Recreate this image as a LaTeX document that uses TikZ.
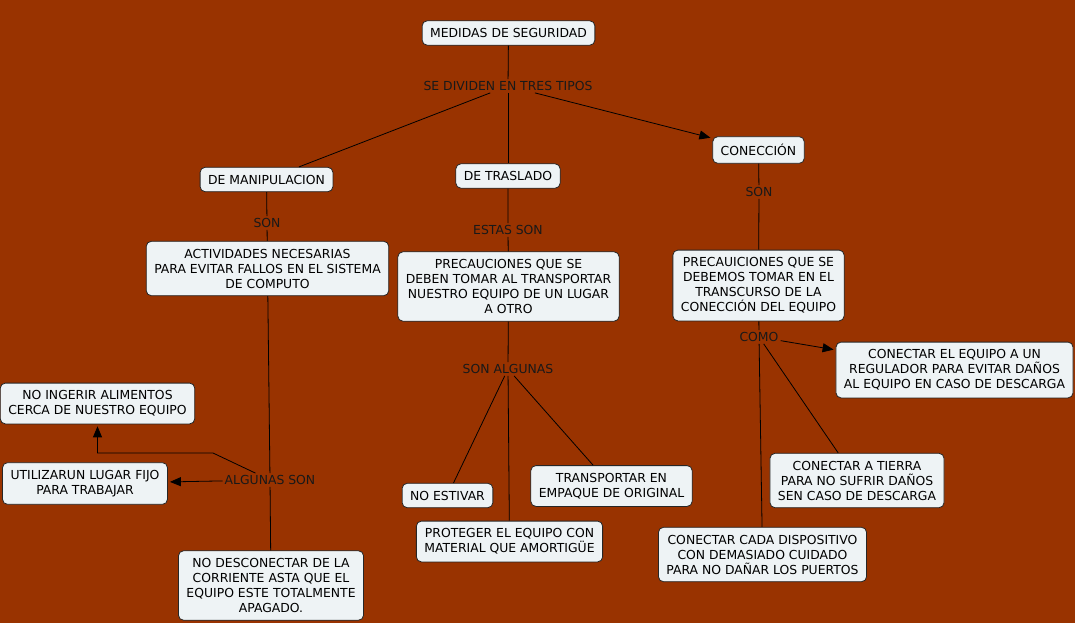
\documentclass[tikz,border=0pt]{standalone}
\usepackage{fontspec}
\setmainfont{DejaVu Sans}
\usepackage{xcolor}
\usetikzlibrary{arrows.meta, positioning}
\definecolor{fondo}{RGB}{153,51,0}
\definecolor{caja}{RGB}{238,243,245}
\tikzset{
  concepto/.style={draw=black!85, fill=caja, rounded corners=5pt, line width=0.8pt,
    inner xsep=8pt, inner ysep=7.5pt, align=center, font=\fontsize{12.4}{15}\selectfont},
  enlace/.style={fill=fondo, inner sep=2pt, text=black!90, font=\fontsize{12.4}{15}\selectfont},
  linea/.style={line width=0.8pt},
  flecha/.style={line width=0.8pt, -{Triangle[length=11pt,width=9pt]}, shorten >=2pt},
}

\begin{document}
\begin{tikzpicture}[x=1pt, y=-1pt]
  \fill[fondo] (0,0) rectangle (1075,623);
  \useasboundingbox (0,0) rectangle (1075,623);

  \node [concepto] (medidas) at (508.5,33) {MEDIDAS DE SEGURIDAD};
  \node [enlace] (tipos) at (508,86) {SE DIVIDEN EN TRES TIPOS};
  \node [concepto] (manip) at (266.5,179.5) {DE MANIPULACION};
  \node [concepto] (traslado) at (508,176) {DE TRASLADO};
  \node [concepto] (conec) at (758.5,150) {CONECCIÓN};

  % rama izquierda
  \node [enlace] (son1) at (267,223) {SON};
  \node [concepto] (activ) at (267.5,268.5) {ACTIVIDADES NECESARIAS\\PARA EVITAR FALLOS EN EL SISTEMA\\DE COMPUTO};
  \node [enlace] (algunas) at (270,480) {ALGUNAS SON};
  \node [concepto] (ingerir) at (97.5,403.5) {NO INGERIR ALIMENTOS\\CERCA DE NUESTRO EQUIPO};
  \node [concepto] (utilizar) at (85,483.5) {UTILIZARUN LUGAR FIJO\\PARA TRABAJAR};
  \node [concepto] (desconectar) at (271,585.5) {NO DESCONECTAR DE LA\\CORRIENTE ASTA QUE EL\\EQUIPO ESTE TOTALMENTE\\APAGADO.};
  \coordinate (b1) at (213,453);
  \coordinate (b2) at (97.5,453);

  % rama central
  \node [enlace] (estas) at (508,230) {ESTAS SON};
  \node [concepto] (precau) at (508.5,286.5) {PRECAUCIONES QUE SE\\DEBEN TOMAR AL TRANSPORTAR\\NUESTRO EQUIPO DE UN LUGAR\\A OTRO};
  \node [enlace] (sonalg) at (508,369) {SON ALGUNAS};
  \node [concepto] (estivar) at (447.5,495.5) {NO ESTIVAR};
  \node [concepto] (transp) at (611.5,486) {TRANSPORTAR EN\\EMPAQUE DE ORIGINAL};
  \node [concepto] (proteger) at (509.5,541.5) {PROTEGER EL EQUIPO CON\\MATERIAL QUE AMORTIGÜE};

  % rama derecha
  \node [enlace] (son2) at (759,192) {SON};
  \node [concepto] (precaui) at (758.5,285.5) {PRECAUICIONES QUE SE\\DEBEMOS TOMAR EN EL\\TRANSCURSO DE LA\\CONECCIÓN DEL EQUIPO};
  \node [enlace] (como) at (759,337) {COMO};
  \node [concepto] (regul) at (954.5,370) {CONECTAR EL EQUIPO A UN\\REGULADOR PARA EVITAR DAÑOS\\AL EQUIPO EN CASO DE DESCARGA};
  \node [concepto] (tierra) at (857,480.5) {CONECTAR A TIERRA\\PARA NO SUFRIR DAÑOS\\SEN CASO DE DESCARGA};
  \node [concepto] (cada) at (762.5,554.5) {CONECTAR CADA DISPOSITIVO\\CON DEMASIADO CUIDADO\\PARA NO DAÑAR LOS PUERTOS};

  \draw [linea] (medidas) -- (tipos);
  \draw [linea] (tipos) -- (manip);
  \draw [linea] (tipos) -- (traslado);
  \draw [flecha] (tipos) -- (conec);

  \draw [linea] (manip) -- (son1) -- (activ);
  \draw [linea] (activ) -- (algunas) -- (desconectar);
  \draw [flecha] (algunas) -- (utilizar);
  \draw [flecha] (algunas) -- (b1) -- (b2) -- (ingerir);

  \draw [linea] (traslado) -- (estas) -- (precau) -- (sonalg);
  \draw [linea] (sonalg) -- (estivar);
  \draw [linea] (sonalg) -- (proteger);
  \draw [linea] (sonalg) -- (transp);

  \draw [linea] (conec) -- (son2) -- (precaui) -- (como);
  \draw [flecha] (como) -- (regul);
  \draw [linea] (como) -- (tierra);
  \draw [linea] (como) -- (cada);
%  \draw [linea] (precaui) -- (regul);
\end{tikzpicture}
\end{document}
